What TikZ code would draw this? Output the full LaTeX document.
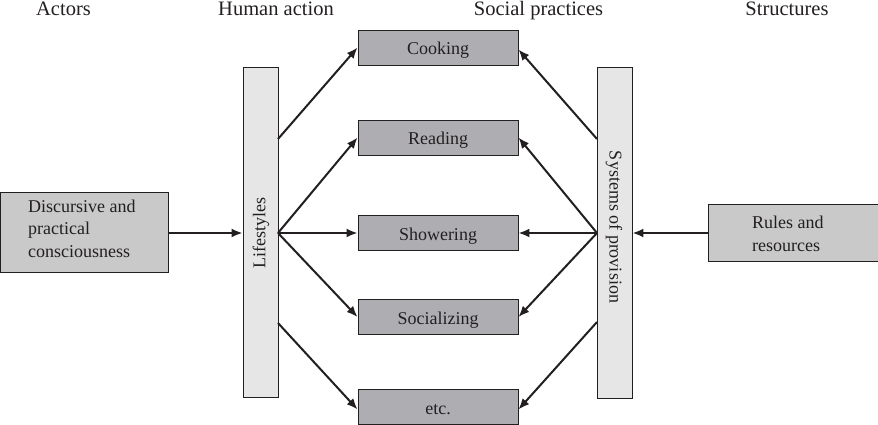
\documentclass[tikz,border=0pt]{standalone}
\usepackage{fontspec}
\setmainfont{Liberation Serif}
\usetikzlibrary{arrows.meta}
\definecolor{ink}{HTML}{231F20}
\definecolor{actfill}{HTML}{AEAEB2}
\definecolor{sidefill}{HTML}{C9C9CA}
\definecolor{barfill}{HTML}{E6E6E7}
\tikzset{
  act/.style={draw=ink, line width=0.9pt, fill=actfill, minimum width=160pt, minimum height=35pt, inner sep=0pt, text height=17pt, text depth=2pt, font=\fontsize{18}{22}\selectfont, text=ink},
  sidebox/.style={draw=ink, line width=0.9pt, fill=sidefill, inner sep=0pt, text=ink},
  boxtext/.style={text=ink, align=left, anchor=north west, inner sep=0pt},
  bar/.style={draw=ink, line width=0.9pt, fill=barfill, minimum width=35pt, minimum height=330pt, inner sep=0pt},
  bartext/.style={font=\fontsize{18}{22}\selectfont, text=ink, inner sep=0pt},
  head/.style={font=\fontsize{20.5}{24}\selectfont, text=ink, inner sep=0pt, anchor=base},
  arr/.style={draw=ink, line width=2pt, -{Latex[length=11pt,width=9pt]}}
}
\begin{document}
\begin{tikzpicture}[x=1pt,y=-1pt]
\useasboundingbox (0,0) rectangle (878,425);
% headers
\node[head] (hA) at (63.5,16) {Actors};
\node[head] (hH) at (276,16) {Human action};
\node[head] (hS) at (538.5,16) {Social practices};
\node[head] (hT) at (787,16) {Structures};
% side boxes
\node[sidebox, minimum width=168pt, minimum height=80pt] (disc) at (84,232) {};
\node[boxtext, font=\fontsize{18}{22.5}\selectfont] (discT) at (28,199.5) {Discursive and\\practical\\consciousness};
\node[sidebox, minimum width=170pt, minimum height=57pt] (rules) at (793,232.5) {};
\node[boxtext, font=\fontsize{18}{23}\selectfont] (rulesT) at (752,215.5) {Rules and\\resources};
% bars
\node[bar] (ls) at (260.5,232) {};
\node[bartext, rotate=90] (lsT) at (261,233) {Lifestyles};
\node[bar, minimum height=331pt] (sp) at (614.5,232.5) {};
\node[bartext, rotate=-90] (spT) at (614,227) {Systems of provision};
% activities
\node[act] (cook) at (438,47.5) {Cooking};
\node[act] (read) at (438,137.5) {Reading};
\node[act] (show) at (438,233) {Showering};
\node[act] (soc) at (438,317) {Socializing};
\node[act] (etc) at (438,406.5) {etc.};
% anchor coordinates
\coordinate (lsU) at (278,139);
\coordinate (lsM) at (278,233);
\coordinate (lsL) at (278,323);
\coordinate (spU) at (597,139);
\coordinate (spM) at (597,233);
\coordinate (spL) at (597,322);
% arrows
\draw[arr] (disc.east |- lsM) -- (ls.west |- lsM);
\draw[arr] (rules.west |- spM) -- (sp.east |- spM);
\draw[arr] (lsU) -- (cook.west);
\draw[arr] (lsM) -- (read.west);
\draw[arr] (lsM) -- (show.west);
\draw[arr] (lsM) -- (soc.west);
\draw[arr] (lsL) -- ([yshift=-3pt]etc.west);
\draw[arr] (spU) -- ([yshift=-2pt]cook.east);
\draw[arr] (spM) -- (read.east);
\draw[arr] (spM) -- (show.east);
\draw[arr] (spM) -- (soc.east);
\draw[arr] (spL) -- ([yshift=-3pt]etc.east);
\end{tikzpicture}
\end{document}
